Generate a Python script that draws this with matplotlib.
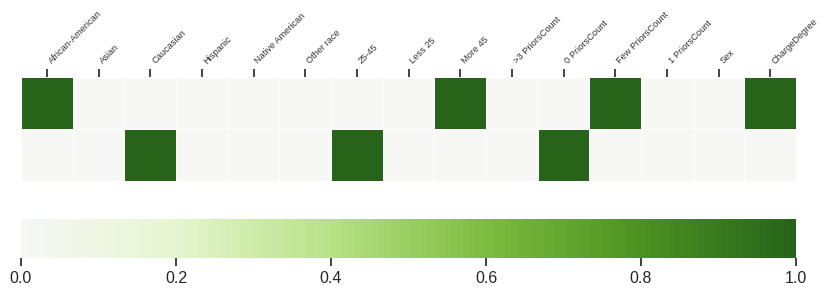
import numpy as np
import matplotlib.pyplot as plt
from matplotlib.colors import LinearSegmentedColormap

features = ["African-American", "Asian", "Caucasian", "Hispanic", "Native American",
            "Other race", "25-45", "Less 25", "More 45", ">3 PriorsCount",
            "0 PriorsCount", "Few PriorsCount", "1 PriorsCount", "Sex", "ChargeDegree"]
row_a = [1, 0, 0, 0, 0, 0, 0, 0, 1, 0, 0, 1, 0, 0, 1]
row_b = [0, 0, 1, 0, 0, 0, 1, 0, 0, 0, 1, 0, 0, 0, 0]

plt.rcParams['font.family'] = ['Liberation Sans', 'DejaVu Sans']
base = plt.get_cmap('PiYG')
cmap = LinearSegmentedColormap.from_list('greens_half', base(np.linspace(0.5, 1.0, 256)))

data = np.array([row_a, row_b])
fig = plt.figure(figsize=(8.34, 2.95), dpi=100)
W, H = 834, 295
ax = fig.add_axes([21 / W, 1 - 181 / H, 775 / W, 104 / H])
mesh = ax.pcolormesh(data, cmap=cmap, vmin=0, vmax=1, edgecolors='white', linewidth=0.6)
ax.set_xlim(0, data.shape[1])
ax.set_ylim(data.shape[0], 0)
ax.set_xticks(np.arange(data.shape[1]) + 0.5)
ax.set_xticklabels(features, rotation=45, ha='left', fontsize=6.7, color='#333333')
ax.xaxis.tick_top()
ax.tick_params(axis='x', length=6, width=1.3, color='#333333', pad=2)
ax.set_yticks([])
for s in ax.spines.values():
    s.set_visible(False)

cax = fig.add_axes([21 / W, 1 - 258 / H, 775 / W, 39 / H])
cb = fig.colorbar(mesh, cax=cax, orientation='horizontal')
cb.set_ticks([0, 0.2, 0.4, 0.6, 0.8, 1.0])
cb.outline.set_visible(False)
cax.tick_params(length=6, width=1.3, color='#333333', labelsize=11.5, labelcolor='#262626')

fig.savefig('out.png', dpi=100)
